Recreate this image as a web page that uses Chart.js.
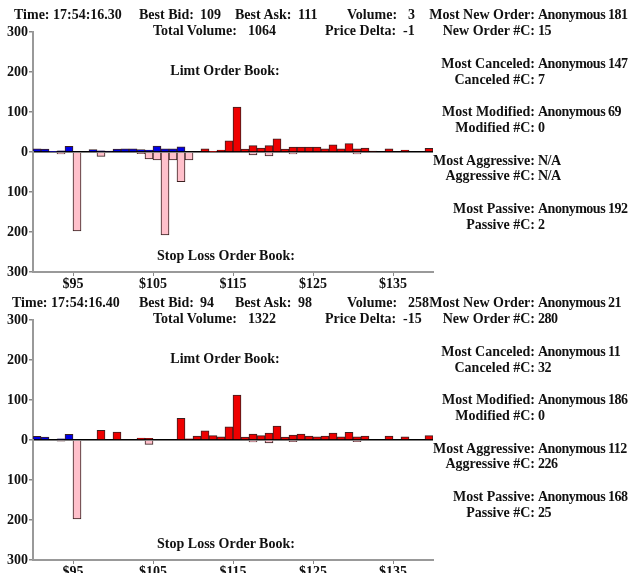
<!DOCTYPE html>
<html lang="en">
<head>
<meta charset="UTF-8">
<title>Order Book Snapshots</title>
<script src="https://cdn.jsdelivr.net/npm/chart.js"></script>
<style>
  body { margin: 0; width: 631px; height: 573px; overflow: hidden; background: #fff; position: relative;
         font: bold 14px "Liberation Serif", "Times New Roman", serif; color: #111; }
  .t { position: absolute; white-space: nowrap; line-height: 16px; }
  .v { letter-spacing: -0.5px; }
  canvas { position: absolute; left: 0; }
</style>
</head>
<body>
<canvas id="bookTop" width="445" height="275" style="top:22px"></canvas>
<canvas id="bookBottom" width="445" height="275" style="top:310px"></canvas>

<script>
// price levels, one bin [p, p+1) each
const prices = [90, 91, 92, 93, 94, 95, 96, 97, 98, 99,
                100, 101, 102, 103, 104, 105, 106, 107, 108, 109,
                110, 111, 112, 113, 114, 115, 116, 117, 118, 119,
                120, 121, 122, 123, 124, 125, 126, 127, 128, 129,
                130, 131, 132, 133, 134, 135, 136, 137, 138, 139];
const xTicks = [95, 105, 115, 125, 135];
const yTicks = [-300, -200, -100, 0, 100, 200, 300];

// snapshot 17:54:16.30
const bidTop  = [8, 7, 1, 3, 14, 0, 0, 6, 3, 2,
                 7, 8, 8, 6, 5, 15, 8, 8, 13, 0,
                 0, 0, 0, 0, 0, 0, 0, 0, 0, 0,
                 0, 0, 0, 0, 0, 0, 0, 0, 0, 0,
                 0, 0, 0, 0, 0, 0, 0, 0, 0, 0];
const askTop  = [0, 0, 0, 0, 0, 0, 0, 0, 0, 0,
                 0, 0, 0, 0, 0, 0, 0, 0, 0, 0,
                 0, 8, 1, 5, 28, 112, 7, 16, 10, 16,
                 33, 7, 12, 12, 12, 12, 8, 18, 8, 21,
                 8, 10, 2, 0, 8, 0, 5, 0, 0, 9];
const stopTop = [0, 0, 0, -5, 0, -197, 0, 0, -11, 0,
                 0, 0, 0, -4, -17, -20, -207, -20, -74, -20,
                 0, 0, 0, 0, 0, 0, 0, -7, 0, -10,
                 0, 0, -5, 0, 0, 0, 0, 0, 0, 0,
                 -5, 0, 0, 0, 0, 0, 0, 0, 0, 0];

// snapshot 17:54:16.40
const bidBottom  = [9, 7, 0, 3, 14, 0, 0, 0, 0, 0,
                    0, 0, 0, 0, 0, 0, 0, 0, 0, 0,
                    0, 0, 0, 0, 0, 0, 0, 0, 0, 0,
                    0, 0, 0, 0, 0, 0, 0, 0, 0, 0,
                    0, 0, 0, 0, 0, 0, 0, 0, 0, 0];
const askBottom  = [0, 0, 0, 0, 0, 0, 0, 0, 24, 0,
                    20, 0, 0, 5, 4, 0, 0, 0, 54, 3,
                    10, 23, 11, 8, 33, 112, 7, 15, 11, 17,
                    35, 7, 12, 15, 10, 8, 10, 17, 8, 19,
                    8, 10, 0, 0, 10, 0, 8, 0, 0, 11];
const stopBottom = [0, 0, 0, -3, 0, -197, 0, 0, 0, 0,
                    0, 0, 0, 0, -11, 0, 0, 0, 0, 0,
                    0, 0, 0, 0, 0, 0, 0, -5, 0, -7,
                    0, 0, -4, 0, 0, 0, 0, 0, 0, 0,
                    -4, 0, 0, 0, 0, 0, 0, 0, 0, 0];

// header texts
const headLabels = ["Best Bid:", "Best Ask:", "Volume:", "Total Volume:", "Price Delta:"];
const headTop    = ["109", "111", "3", "1064", "-1"];
const headBottom = ["94", "98", "258", "1322", "-15"];
const timeTop = "Time: 17:54:16.30";
const timeBottom = "Time: 17:54:16.40";

const statLabels = ["Most New Order:", "New Order #C:", "Most Canceled:", "Canceled #C:",
                    "Most Modified:", "Modified #C:", "Most Aggressive:", "Aggressive #C:",
                    "Most Passive:", "Passive #C:"];
const statTop    = ["Anonymous 181", "15", "Anonymous 147", "7", "Anonymous 69", "0",
                    "N/A", "N/A", "Anonymous 192", "2"];
const statBottom = ["Anonymous 21", "280", "Anonymous 11", "32", "Anonymous 186", "0",
                    "Anonymous 112", "226", "Anonymous 168", "25"];

// layout (pixels)
const panelOffset = [0, 288];
const headLabelX = [139, 235, 347, 153, 325];
const headValueX = [200, 298, 408, 248, 403];
const headY = [15, 15, 15, 31, 31];
const statY = [15, 31, 64, 80, 112, 128, 161, 176, 209, 225];

function put(x, y, txt, align, cls) {
  const d = document.createElement("div");
  d.className = "t" + (cls ? " " + cls : "");
  d.textContent = txt;
  d.style.left = x + "px";
  d.style.top = (y - 8) + "px";
  if (align === "right") d.style.transform = "translateX(-100%)";
  if (align === "center") d.style.transform = "translateX(-50%)";
  document.body.appendChild(d);
}

function drawTexts(off, time, heads, stats) {
  put(off === 0 ? 14 : 12, 15 + off, time);
  headLabels.forEach((lab, i) => {
    put(headLabelX[i], headY[i] + off, lab);
    put(headValueX[i], headY[i] + off, heads[i]);
  });
  statLabels.forEach((lab, i) => {
    put(535, statY[i] + off, lab, "right");
    put(538, statY[i] + off, stats[i], "left", "v");
  });
  put(225, 71 + off, "Limt Order Book:", "center");
  put(226, 256 + off, "Stop Loss Order Book:", "center");
}

drawTexts(panelOffset[0], timeTop, headTop, statTop);
drawTexts(panelOffset[1], timeBottom, headBottom, statBottom);

const tickFont = { family: "Liberation Serif", size: 14, weight: "bold" };

function makeBook(id, bid, ask, stop) {
  const bins = vals => vals.map((v, i) => ({ x: prices[i] + 0.5, y: v }));
  const ds = (vals, fill) => ({
    data: bins(vals),
    backgroundColor: fill,
    borderColor: "#3a2020",
    borderWidth: 1,
    grouped: false,
    barPercentage: 1,
    categoryPercentage: 1
  });

  new Chart(document.getElementById(id), {
    type: "bar",
    data: {
      datasets: [
        ds(stop, "#ffc0cb"),
        ds(bid, "#0000e6"),
        ds(ask, "#ee0000")
      ]
    },
    options: {
      responsive: false,
      animation: false,
      layout: { padding: { top: 10, right: 12, left: 0, bottom: 0 } },
      plugins: { legend: { display: false }, tooltip: { enabled: false } },
      scales: {
        x: {
          type: "linear", min: 90, max: 140, offset: false,
          afterBuildTicks: s => { s.ticks = xTicks.map(v => ({ value: v })); },
          afterFit: s => { s.height = 25; },
          grid: { drawOnChartArea: false, offset: false, tickLength: 4, tickColor: "#888" },
          border: { color: "#999", width: 2 },
          ticks: { padding: 0, autoSkip: false, maxRotation: 0, color: "#111", font: tickFont,
                   callback: v => "$" + v }
        },
        y: {
          min: -300, max: 300,
          afterBuildTicks: s => { s.ticks = yTicks.map(v => ({ value: v })); },
          afterFit: s => { s.width = 33; },
          grid: {
            color: c => (c.tick && c.tick.value === 0 ? "#000" : "rgba(0,0,0,0)"),
            lineWidth: 1.5,
            tickLength: 4,
            tickColor: "#888"
          },
          border: { color: "#999", width: 2 },
          ticks: { padding: 1, color: "#111", font: tickFont, callback: v => Math.abs(v) }
        }
      }
    }
  });
}

makeBook("bookTop", bidTop, askTop, stopTop);
makeBook("bookBottom", bidBottom, askBottom, stopBottom);
</script>
</body>
</html>
